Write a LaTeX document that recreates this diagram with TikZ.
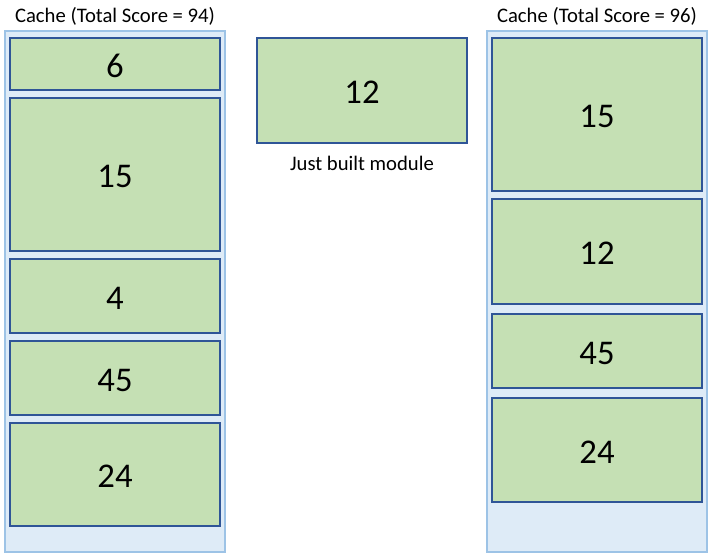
\documentclass[tikz,border=0pt]{standalone}
\usepackage{fontspec}
\setmainfont{Carlito}
\usepackage{xcolor}
\usepackage{tikz}
\definecolor{cachefill}{HTML}{DEEBF7}
\definecolor{cacheline}{HTML}{9DC3E6}
\definecolor{modfill}{HTML}{C5E0B4}
\definecolor{modline}{HTML}{2F5597}

\begin{document}
\begin{tikzpicture}[x=0.75pt,y=-0.75pt,
        cache/.style={draw=cacheline,fill=cachefill,line width=1.5pt,minimum width=165pt,minimum height=390.75pt,inner sep=0pt},
        module/.style={draw=modline,fill=modfill,line width=1.5pt,minimum width=157.5pt,inner sep=0pt,text height=19.5pt,text depth=0pt,font=\fontsize{26}{30}\selectfont},
        caption/.style={font=\fontsize{15.5}{18}\selectfont}]
        \useasboundingbox (0,0) rectangle (715,558);

        % Cache before the new module arrives
        \node[cache] (cacheA) at (115,291.5) {};
        \node[caption] (titleA) at (115,16) {Cache (Total Score = 94)};
        \node[module,minimum height=39pt]     (a6)  at (115,64)    {6};
        \node[module,minimum height=114.75pt] (a15) at (115,174.5) {15};
        \node[module,minimum height=55.5pt]   (a4)  at (115,296)   {4};
        \node[module,minimum height=55.5pt]   (a45) at (115,378)   {45};
        \node[module,minimum height=77.25pt]  (a24) at (115,474.5) {24};

        % The module that was just built
        \node[module,minimum height=78.75pt] (new12) at (362,90.5) {12};
        \node[caption] (newlabel) at (362,163) {Just built module};

        % Cache after the update
        \node[cache] (cacheB) at (597,291.5) {};
        \node[caption] (titleB) at (597,16) {Cache (Total Score = 96)};
        \node[module,minimum height=114.75pt] (b15) at (597,114.5) {15};
        \node[module,minimum height=78.75pt]  (b12) at (597,251.5) {12};
        \node[module,minimum height=55.5pt]   (b45) at (597,351)   {45};
        \node[module,minimum height=78pt]     (b24) at (597,450)   {24};
\end{tikzpicture}
\end{document}
